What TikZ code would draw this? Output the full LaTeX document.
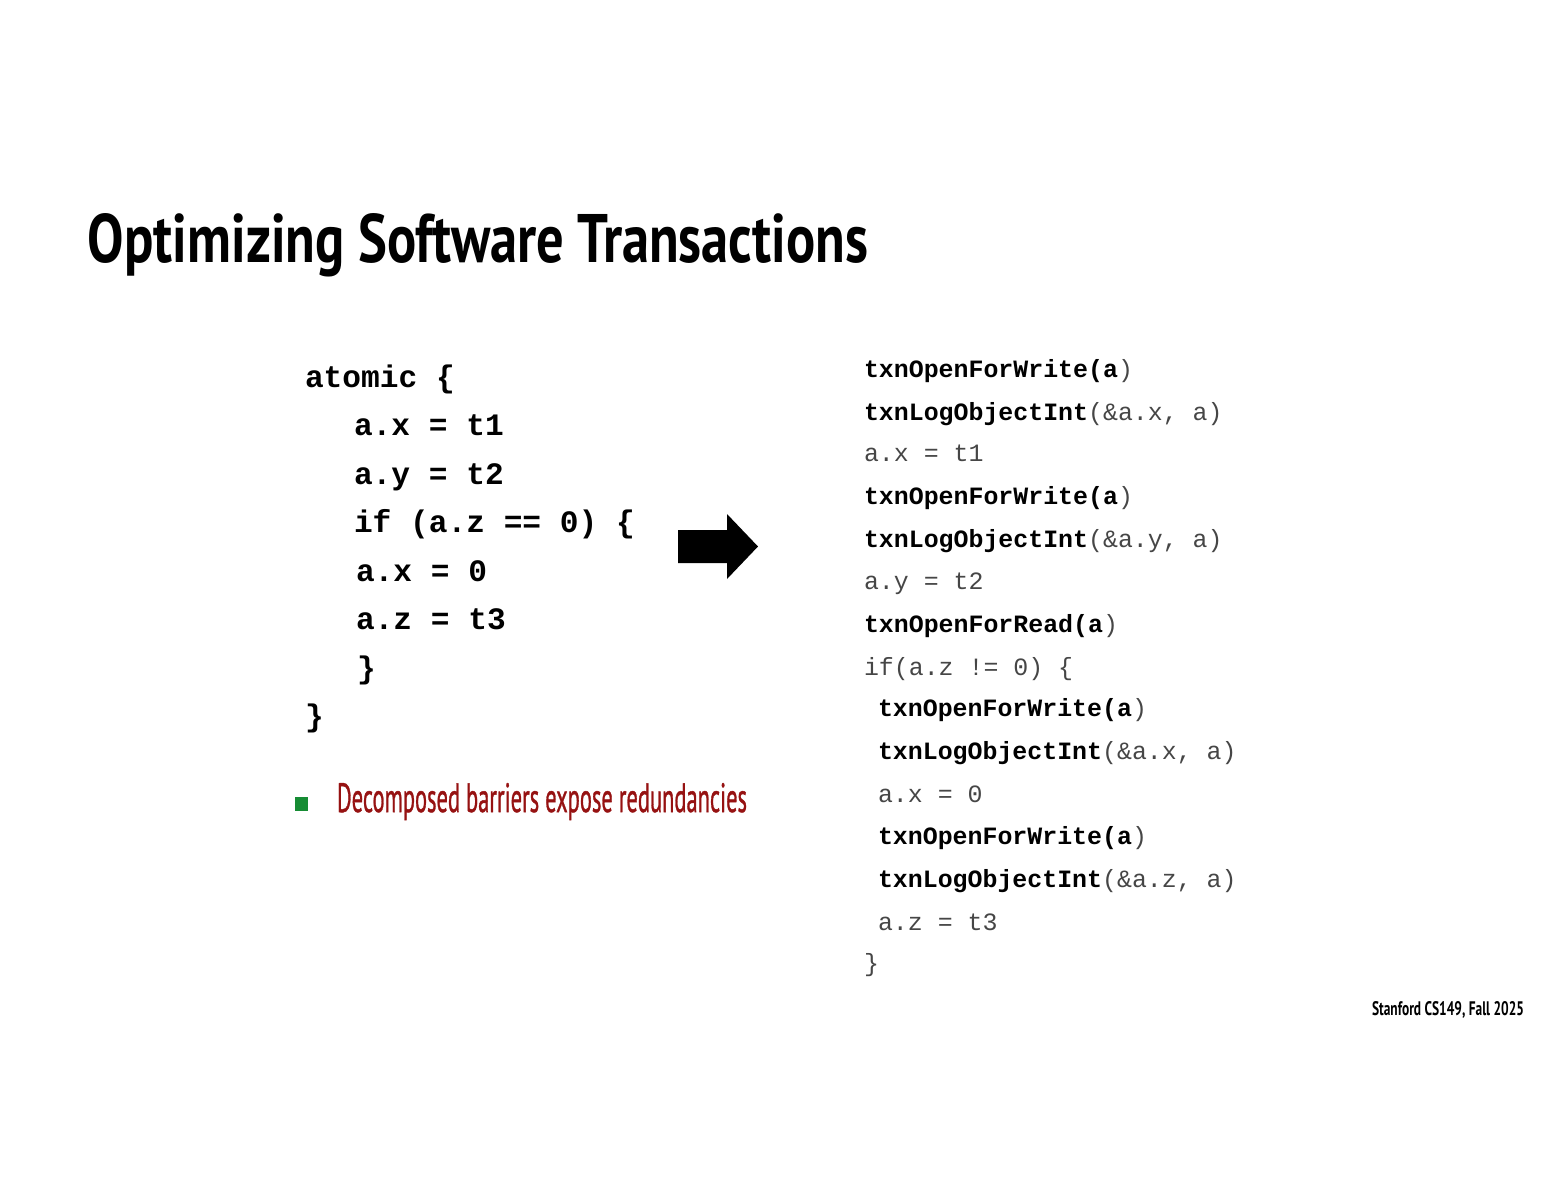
\documentclass[tikz,border=0pt]{standalone}
\usepackage{fontspec}
\usepackage{graphicx}
\setmainfont{PT Sans}
\newfontfamily\codefont{Liberation Mono}
\newfontfamily\bulletfont[FakeBold=1.2]{PT Sans}
\definecolor{bulletred}{RGB}{150,18,18}
\definecolor{bulletgreen}{RGB}{22,140,52}
\definecolor{codegray}{RGB}{70,70,70}
\newcommand\bk[1]{\textcolor{black}{\bfseries #1}}
\begin{document}
\begin{tikzpicture}[x=0.5pt,y=-0.5pt,
  every node/.style={inner sep=0pt,outer sep=0pt,anchor=base west},
  lcode/.style={font=\codefont\bfseries\fontsize{15.6pt}{15.6pt}\selectfont},
  rcode/.style={font=\codefont\fontsize{12.45pt}{12.45pt}\selectfont,text=codegray}]
\useasboundingbox (0,0) rectangle (1553,1200);
% title
\node (title) at (88,262) {\resizebox{390pt}{24.5pt}{\bfseries Optimizing Software Transactions}};
% left code
\node[lcode] (l1) at (305,387) {atomic \{};
\node[lcode] (l2) at (354,435.5) {a.x = t1};
\node[lcode] (l3) at (354,484) {a.y = t2};
\node[lcode] (l4) at (354,532.5) {if (a.z == 0) \{};
\node[lcode] (l5) at (356,581) {a.x = 0};
\node[lcode] (l6) at (356,629.5) {a.z = t3};
\node[lcode] (l7) at (357,678) {\}};
\node[lcode] (l8) at (305,726.5) {\}};
% arrow
\fill (678,530) -- (727,530) -- (727,514) -- (758,546.5) -- (727,579) -- (727,563) -- (678,563) -- cycle;
% right code
\node[rcode] (r1) at (864,377) {\bk{txnOpenForWrite(a})};
\node[rcode] (r2) at (864,420) {\bk{txnLogObjectInt}(\&a.x, a)};
\node[rcode] (r3) at (864,461) {a.x = t1};
\node[rcode] (r4) at (864,504) {\bk{txnOpenForWrite(a})};
\node[rcode] (r5) at (864,547) {\bk{txnLogObjectInt}(\&a.y, a)};
\node[rcode] (r6) at (864,589) {a.y = t2};
\node[rcode] (r7) at (864,632) {\bk{txnOpenForRead(a})};
\node[rcode] (r8) at (864,675) {if(a.z != 0) \{};
\node[rcode] (r9) at (878,716) {\bk{txnOpenForWrite(a})};
\node[rcode] (r10) at (878,759) {\bk{txnLogObjectInt}(\&a.x, a)};
\node[rcode] (r11) at (878,802) {a.x = 0};
\node[rcode] (r12) at (878,844) {\bk{txnOpenForWrite(a})};
\node[rcode] (r13) at (878,887) {\bk{txnLogObjectInt}(\&a.z, a)};
\node[rcode] (r14) at (878,930) {a.z = t3};
\node[rcode] (r15) at (864,971) {\}};
% bullet
\fill[bulletgreen] (295,797) rectangle (308,811);
\node[text=bulletred] (bullet) at (337,812) {\resizebox{205pt}{14.5pt}{\bulletfont Decomposed barriers expose redundancies}};
% footer
\node (footer) at (1372,1015) {\resizebox{76pt}{7pt}{\bfseries Stanford CS149, Fall 2025}};
\end{tikzpicture}
\end{document}
